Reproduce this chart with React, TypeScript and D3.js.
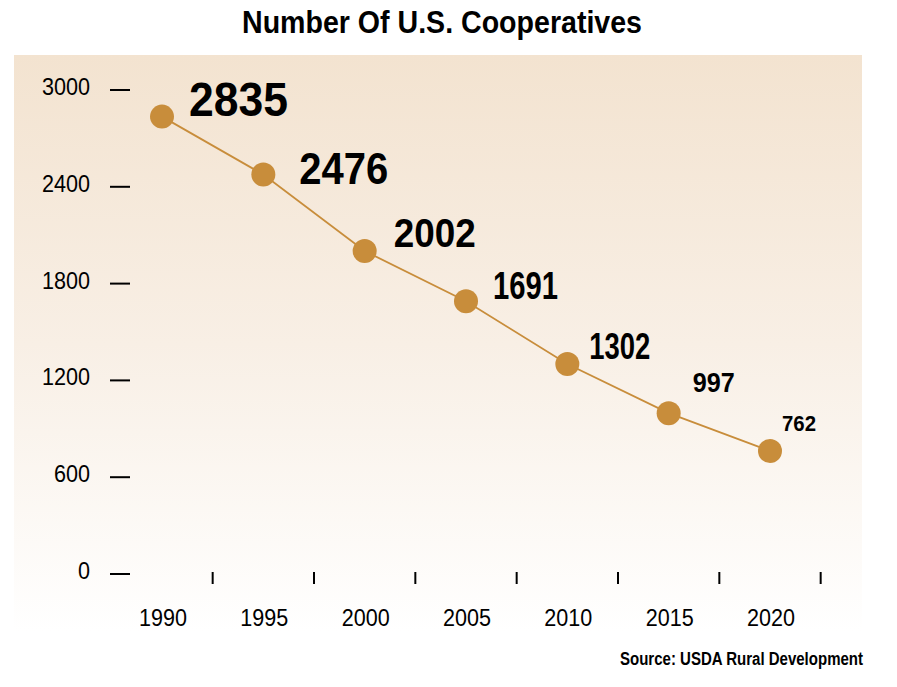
import React from "react";
import * as d3 from "d3";

const years = [1990, 1995, 2000, 2005, 2010, 2015, 2020];
const counts = [2835, 2476, 2002, 1691, 1302, 997, 762];
const yTicks = [0, 600, 1200, 1800, 2400, 3000];
const xTickYears = [1992.5, 1997.5, 2002.5, 2007.5, 2012.5, 2017.5, 2022.5];
// label styling: font size, rendered width and offset from point
const labelSizes = [49, 45, 40, 39, 36, 28, 22];
const labelWidths = [99, 89, 82, 65, 61, 42, 34];
const labelDx = [27, 36, 29, 27, 22, 24, 12];
const labelDy = [-1, 9, -4, -2, -5, -21, -20];

const W = 897;
const H = 687;
const FONT = "'Liberation Sans', Arial, sans-serif";
const GOLD = "#c88d3b";

export default function App() {
  const x = d3.scaleLinear().domain([1990, 2020]).range([162, 770]);
  const y = d3.scaleLinear().domain([0, 3000]).range([574, 90]);
  const line = d3
    .line<number>()
    .x((_, i) => x(years[i]))
    .y((d) => y(d));

  return (
    <svg
      width={W}
      height={H}
      style={{ position: "absolute", left: 0, top: 0, background: "#fff" }}
    >
      <defs>
        <linearGradient id="bg" x1="0" y1="0" x2="0" y2="1">
          <stop offset="0%" stopColor="#f3e3d0" />
          <stop offset="50%" stopColor="#f8efe5" />
          <stop offset="100%" stopColor="#ffffff" />
        </linearGradient>
      </defs>
      <rect x={14} y={55} width={848} height={577} fill="url(#bg)" />
      <text
        x={242}
        y={33}
        fontFamily={FONT}
        fontWeight="bold"
        fontSize={32}
        textLength={400}
        lengthAdjust="spacingAndGlyphs"
        fill="#000"
      >
        Number Of U.S. Cooperatives
      </text>

      {yTicks.map((t) => (
        <g key={t}>
          <line x1={110} x2={130} y1={y(t)} y2={y(t)} stroke="#000" strokeWidth={2} />
          <text
            transform={`translate(90,${y(t) + 5}) scale(0.92,1)`}
            textAnchor="end"
            fontFamily={FONT}
            fontSize={23.5}
            fill="#000"
          >
            {t}
          </text>
        </g>
      ))}

      {xTickYears.map((t) => (
        <line
          key={t}
          x1={x(t)}
          x2={x(t)}
          y1={572}
          y2={584}
          stroke="#000"
          strokeWidth={2}
        />
      ))}
      {years.map((yr) => (
        <text
          key={yr}
          transform={`translate(${x(yr) + 1},626) scale(0.88,1)`}
          textAnchor="middle"
          fontFamily={FONT}
          fontSize={24.5}
          fill="#000"
        >
          {yr}
        </text>
      ))}

      <path d={line(counts) || ""} fill="none" stroke={GOLD} strokeWidth={1.8} />
      {counts.map((c, i) => (
        <circle key={i} cx={x(years[i])} cy={y(c)} r={12} fill={GOLD} />
      ))}
      {counts.map((c, i) => (
        <text
          key={"l" + i}
          x={x(years[i]) + labelDx[i]}
          y={y(c) + labelDy[i]}
          fontFamily={FONT}
          fontWeight="bold"
          fontSize={labelSizes[i]}
          textLength={labelWidths[i]}
          lengthAdjust="spacingAndGlyphs"
          fill="#000"
        >
          {c}
        </text>
      ))}

      <text
        x={620}
        y={665}
        fontFamily={FONT}
        fontWeight="bold"
        fontSize={18}
        textLength={243}
        lengthAdjust="spacingAndGlyphs"
        fill="#000"
      >
        Source: USDA Rural Development
      </text>
    </svg>
  );
}
